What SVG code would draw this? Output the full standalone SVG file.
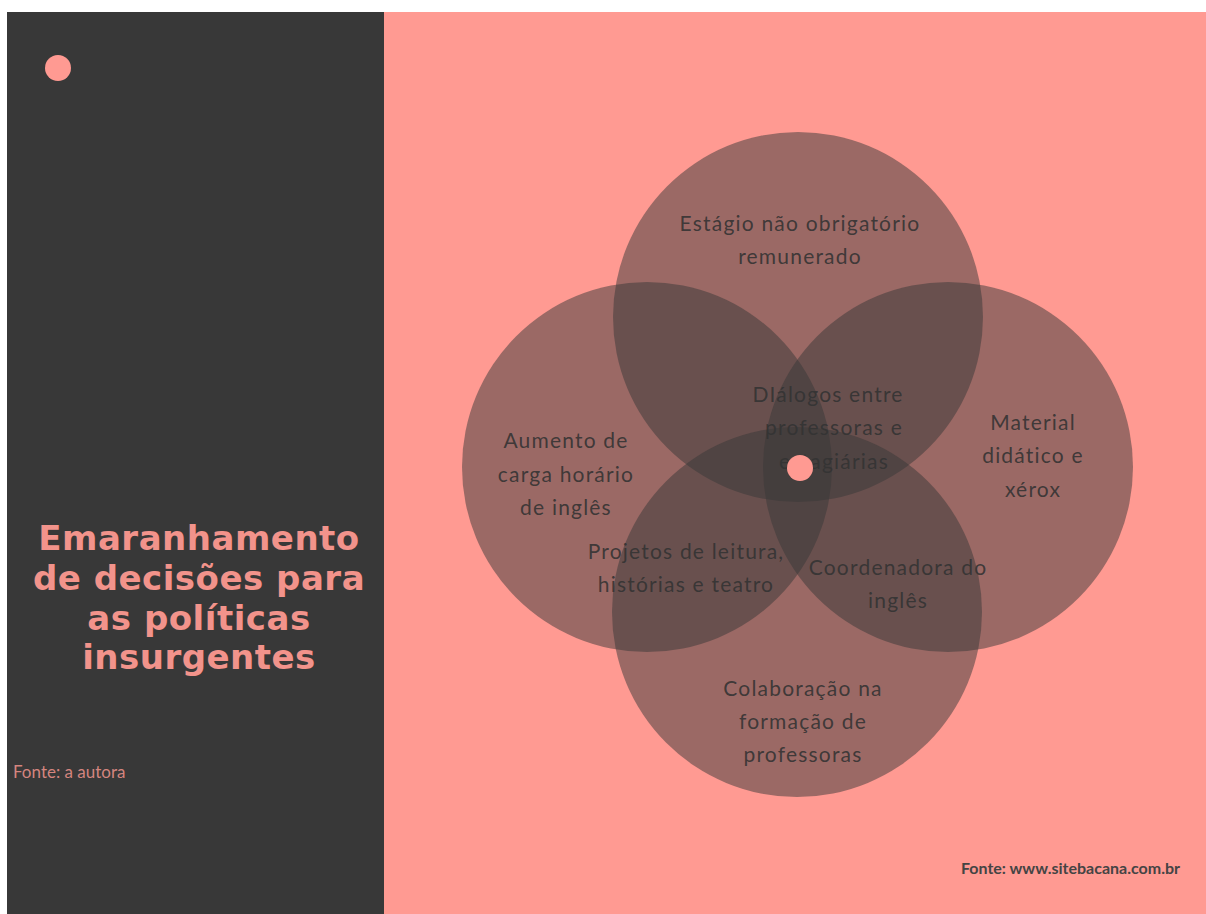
<svg xmlns="http://www.w3.org/2000/svg" width="1206" height="914" viewBox="0 0 1206 914">
<style>
.circ{fill:#383838;fill-opacity:0.5}
.lbl{font-family:"Lato","Liberation Sans",sans-serif;font-size:21px;fill:#333;fill-opacity:0.9;text-anchor:middle;letter-spacing:1.2px}
.title{font-family:"DejaVu Sans","Liberation Sans",sans-serif;font-weight:700;font-size:34px;fill:#F2938B;text-anchor:middle;letter-spacing:0.5px}
.dot{fill:#FF9A92}
</style>
<rect x="0" y="0" width="1206" height="914" fill="#ffffff"/>
<rect x="7" y="12" width="377" height="902" fill="#383838"/>
<rect x="384" y="12" width="822" height="902" fill="#FF9A92"/>
<g id="decor-dot"><circle class="dot" cx="58" cy="68" r="13"/></g>
<g id="title">
<text class="title" x="199" y="550">Emaranhamento</text>
<text class="title" x="199" y="590">de decisões para</text>
<text class="title" x="199" y="630">as políticas</text>
<text class="title" x="199" y="669">insurgentes</text>
</g>
<g id="fonte-autora"><text x="13" y="778" font-family="Lato, 'Liberation Sans', sans-serif" font-size="17" fill="#D4857F">Fonte: a autora</text></g>
<g id="fonte-site"><text x="1180" y="874" text-anchor="end" font-family="Lato, 'Liberation Sans', sans-serif" font-size="16" font-weight="700" fill="#444">Fonte: www.sitebacana.com.br</text></g>
<g id="circles">
<g id="circle-top"><circle class="circ" cx="798" cy="317" r="185"/></g>
<g id="circle-left"><circle class="circ" cx="647" cy="467" r="185"/></g>
<g id="circle-right"><circle class="circ" cx="948" cy="467" r="185"/></g>
<g id="circle-bottom"><circle class="circ" cx="797" cy="612" r="185"/></g>
</g>
<g id="connectors"></g>
<g id="label-top">
<text class="lbl" x="800" y="231">Estágio não obrigatório</text>
<text class="lbl" x="800" y="264">remunerado</text>
</g>
<g id="label-left">
<text class="lbl" x="566" y="448">Aumento de</text>
<text class="lbl" x="566" y="482">carga horário</text>
<text class="lbl" x="566" y="515">de inglês</text>
</g>
<g id="label-right">
<text class="lbl" x="1033" y="430">Material</text>
<text class="lbl" x="1033" y="463">didático e</text>
<text class="lbl" x="1033" y="497">xérox</text>
</g>
<g id="label-center">
<text class="lbl" x="828" y="402">DIálogos entre</text>
<text class="lbl" x="834" y="435">professoras e</text>
<text class="lbl" x="834" y="469">estagiárias</text>
</g>
<g id="label-projetos">
<text class="lbl" x="686" y="559">Projetos de leitura,</text>
<text class="lbl" x="686" y="592">histórias e teatro</text>
</g>
<g id="label-coord">
<text class="lbl" x="898" y="575">Coordenadora do</text>
<text class="lbl" x="898" y="608">inglês</text>
</g>
<g id="label-bottom">
<text class="lbl" x="803" y="696">Colaboração na</text>
<text class="lbl" x="803" y="729">formação de</text>
<text class="lbl" x="803" y="762">professoras</text>
</g>
<g id="center-dot"><circle class="dot" cx="800" cy="468" r="13"/></g>
</svg>
